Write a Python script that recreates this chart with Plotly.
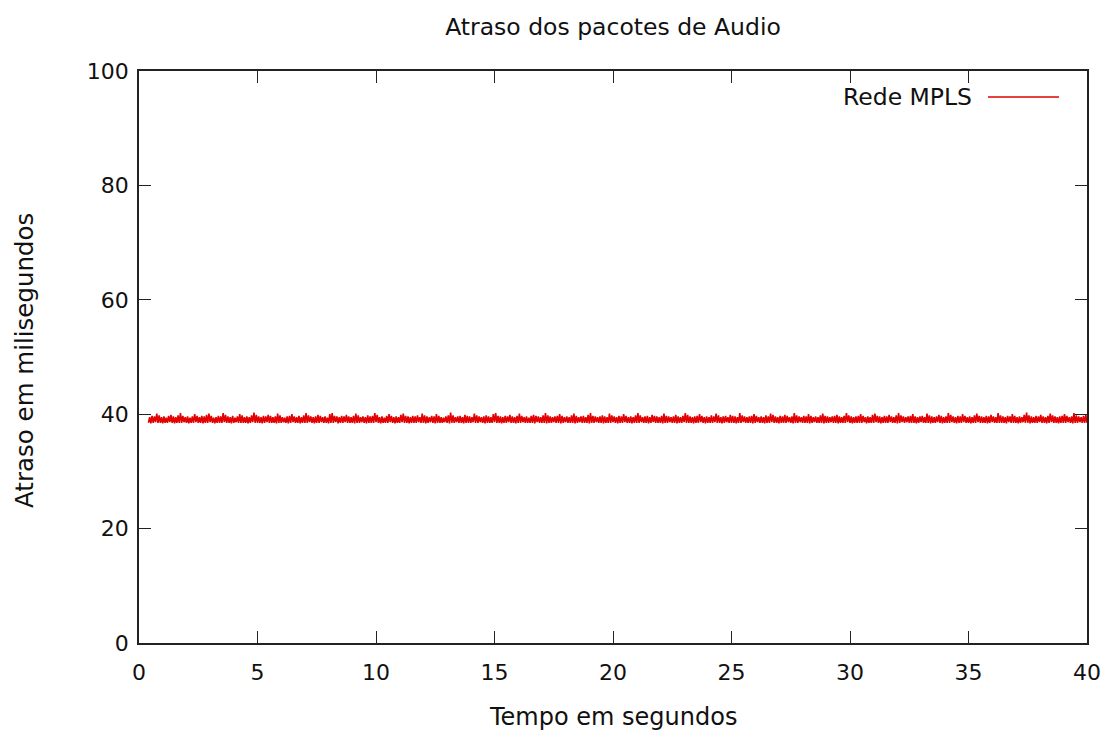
import numpy as np
import plotly.graph_objects as go

# Audio packet delay (ms) over an MPLS network.
# Packets alternate between the floor delay and the upper (jittered) delay.
titulo = "Atraso dos pacotes de Audio"
eixo_x = "Tempo em segundos"
eixo_y = "Atraso em milisegundos"
serie_nome = "Rede MPLS"

t_inicio = 0.4
passo = 0.05

atraso_pico = [
    39.5, 39.7, 39.6, 40.1, 39.8, 39.5, 39.6, 39.4, 39.7, 39.9, 39.6, 39.5, 39.8, 40.2, 39.7, 39.5, 39.6, 39.4,
    39.6, 40.0, 39.7, 39.5, 39.7, 39.6, 39.9, 40.1, 39.7, 39.4, 39.5, 39.7, 39.6, 40.2, 39.9, 39.6, 39.5, 39.7,
    39.4, 39.6, 40.0, 39.8, 39.5, 39.6, 39.5, 39.8, 40.3, 39.9, 39.6, 39.5, 39.7, 39.6, 39.9, 39.7, 39.5, 39.6,
    40.1, 39.8, 39.5, 39.4, 39.6, 39.7, 40.0, 39.6, 39.5, 39.7, 39.5, 39.8, 40.2, 39.8, 39.6, 39.5, 39.6, 39.9,
    39.7, 39.5, 39.6, 39.4, 40.0, 40.2, 39.7, 39.6, 39.5, 39.7, 39.6, 39.9, 39.6, 39.5, 39.7, 40.1, 39.8, 39.5,
    39.6, 39.5, 39.8, 39.6, 39.7, 40.2, 39.9, 39.5, 39.6, 39.4, 39.7, 40.0, 39.7, 39.5, 39.6, 39.5, 39.9, 40.1,
    39.7, 39.6, 39.5, 39.7, 39.6, 39.8, 39.5, 40.1, 39.8, 39.6, 39.5, 39.7, 39.6, 40.0, 39.7, 39.5, 39.4, 39.6,
    39.8, 40.3, 39.8, 39.5, 39.6, 39.7, 39.5, 39.9, 39.7, 39.6, 39.5, 40.1, 39.8, 39.6, 39.5, 39.6, 39.8, 39.6,
    39.5, 40.0, 40.2, 39.7, 39.6, 39.5, 39.7, 39.6, 39.9, 39.6, 39.5, 39.7, 40.1, 39.7, 39.5, 39.6, 39.4, 39.7,
    39.9, 39.7, 39.6, 39.5, 39.8, 40.2, 39.8, 39.6, 39.5, 39.6, 39.7, 40.0, 39.7, 39.5, 39.6, 39.5, 39.8, 40.1,
    39.7, 39.5, 39.6, 39.7, 39.5, 39.9, 40.2, 39.7, 39.6, 39.5, 39.6, 39.8, 39.6, 39.5, 40.1, 39.8, 39.6, 39.5,
    39.7, 39.6, 40.0, 39.7, 39.5, 39.6, 39.5, 39.8, 40.2, 39.8, 39.5, 39.6, 39.7, 39.5, 39.9, 39.7, 39.6, 39.5,
    39.7, 40.1, 39.7, 39.6, 39.5, 39.6, 39.9, 39.6, 39.5, 39.7, 40.2, 39.9, 39.6, 39.5, 39.6, 39.7, 40.0, 39.7,
    39.5, 39.6, 39.5, 39.8, 39.6, 40.1, 39.8, 39.5, 39.6, 39.7, 39.5, 39.9, 39.7, 39.6, 39.5, 40.2, 39.8, 39.6,
    39.5, 39.6, 39.7, 40.0, 39.7, 39.5, 39.6, 39.5, 39.8, 39.6, 40.1, 39.9, 39.6, 39.5, 39.7, 39.6, 39.9, 39.7,
    39.5, 39.6, 40.2, 39.8, 39.6, 39.5, 39.7, 39.6, 40.0, 39.7, 39.5, 39.6, 39.5, 39.8, 40.1, 39.7, 39.6, 39.5,
    39.6, 39.7, 39.9, 39.6, 39.5, 39.7, 40.2, 39.8, 39.6, 39.5, 39.6, 39.7, 40.0, 39.7, 39.5, 39.6, 39.5, 39.9,
    40.1, 39.7, 39.6, 39.5, 39.7, 39.6, 39.9, 39.6, 39.5, 39.8, 40.2, 39.8, 39.6, 39.5, 39.6, 39.7, 40.0, 39.6,
    39.5, 39.6, 39.7, 39.5, 40.1, 39.8, 39.6, 39.5, 39.6, 39.9, 39.7, 39.5, 39.6, 40.2, 39.9, 39.6, 39.5, 39.7,
    39.6, 40.0, 39.7, 39.5, 39.6, 39.5, 39.8, 40.1, 39.7, 39.6, 39.5, 39.7, 39.6, 39.9, 39.6, 39.5, 40.2, 39.8,
    39.6, 39.5, 39.7, 39.6, 40.0, 39.7, 39.5, 39.6, 39.5, 39.9, 40.3, 39.8, 39.6, 39.5, 39.7, 39.6, 39.9, 39.6,
    39.5, 39.7, 40.1, 39.8, 39.6, 39.5, 39.6, 39.7, 40.0, 39.7, 39.5, 39.6, 40.2, 39.8, 39.6, 39.5, 39.7, 39.9,
]

atraso_base = [
    38.5, 38.4, 38.5, 38.6, 38.5, 38.5, 38.4, 38.5, 38.5, 38.6, 38.5, 38.4, 38.5, 38.5, 38.5, 38.6, 38.5, 38.4, 38.5, 38.5,
    38.6, 38.5, 38.5, 38.4, 38.5, 38.5, 38.6, 38.5, 38.4, 38.5, 38.5, 38.5, 38.6, 38.5, 38.5, 38.4, 38.5, 38.6, 38.5, 38.5,
    38.5, 38.5, 38.4, 38.5, 38.6, 38.5, 38.5, 38.5, 38.4, 38.5, 38.6, 38.5, 38.5, 38.5, 38.4, 38.5, 38.5, 38.6, 38.5, 38.4,
    38.5, 38.6, 38.5, 38.5, 38.4, 38.5, 38.5, 38.5, 38.6, 38.5, 38.4, 38.5, 38.5, 38.6, 38.5, 38.5, 38.4, 38.5, 38.5, 38.6,
    38.4, 38.5, 38.5, 38.6, 38.5, 38.5, 38.5, 38.4, 38.5, 38.5, 38.6, 38.5, 38.4, 38.5, 38.5, 38.5, 38.6, 38.5, 38.4, 38.5,
    38.5, 38.5, 38.6, 38.5, 38.4, 38.5, 38.5, 38.6, 38.5, 38.5, 38.4, 38.5, 38.5, 38.5, 38.6, 38.5, 38.5, 38.4, 38.5, 38.6,
    38.5, 38.4, 38.5, 38.5, 38.5, 38.6, 38.5, 38.4, 38.5, 38.5, 38.6, 38.5, 38.5, 38.4, 38.5, 38.5, 38.5, 38.6, 38.5, 38.5,
    38.6, 38.5, 38.4, 38.5, 38.5, 38.5, 38.6, 38.5, 38.5, 38.4, 38.5, 38.5, 38.6, 38.5, 38.5, 38.4, 38.5, 38.5, 38.6, 38.5,
    38.5, 38.5, 38.5, 38.4, 38.6, 38.5, 38.5, 38.5, 38.4, 38.5, 38.5, 38.6, 38.5, 38.5, 38.4, 38.5, 38.6, 38.5, 38.5, 38.5,
    38.4, 38.5, 38.6, 38.5, 38.5, 38.5, 38.4, 38.5, 38.5, 38.6, 38.5, 38.5, 38.4, 38.5, 38.5, 38.5, 38.6, 38.5, 38.4, 38.5,
    38.5, 38.6, 38.5, 38.5, 38.4, 38.5, 38.5, 38.5, 38.6, 38.5, 38.5, 38.4, 38.5, 38.6, 38.5, 38.5, 38.5, 38.4, 38.5, 38.5,
    38.6, 38.5, 38.5, 38.4, 38.5, 38.5, 38.6, 38.5, 38.5, 38.5, 38.4, 38.5, 38.5, 38.6, 38.5, 38.4, 38.5, 38.5, 38.5, 38.6,
    38.5, 38.5, 38.4, 38.5, 38.6, 38.5, 38.5, 38.5, 38.4, 38.5, 38.5, 38.6, 38.5, 38.5, 38.5, 38.4, 38.5, 38.6, 38.5, 38.5,
    38.4, 38.5, 38.5, 38.6, 38.5, 38.5, 38.4, 38.5, 38.5, 38.5, 38.6, 38.5, 38.4, 38.5, 38.5, 38.6, 38.5, 38.5, 38.5, 38.4,
    38.5, 38.6, 38.5, 38.5, 38.5, 38.4, 38.5, 38.5, 38.6, 38.5, 38.5, 38.4, 38.5, 38.5, 38.5, 38.6, 38.5, 38.4, 38.5, 38.5,
    38.5, 38.5, 38.6, 38.4, 38.5, 38.5, 38.5, 38.6, 38.5, 38.4, 38.5, 38.5, 38.5, 38.6, 38.5, 38.5, 38.4, 38.5, 38.6, 38.5,
    38.6, 38.5, 38.5, 38.5, 38.4, 38.5, 38.6, 38.5, 38.5, 38.5, 38.4, 38.5, 38.5, 38.6, 38.5, 38.4, 38.5, 38.5, 38.5, 38.6,
    38.5, 38.4, 38.5, 38.5, 38.6, 38.5, 38.5, 38.4, 38.5, 38.5, 38.6, 38.5, 38.5, 38.5, 38.4, 38.5, 38.6, 38.5, 38.5, 38.5,
    38.5, 38.5, 38.4, 38.6, 38.5, 38.5, 38.5, 38.4, 38.5, 38.6, 38.5, 38.5, 38.4, 38.5, 38.5, 38.5, 38.6, 38.5, 38.5, 38.4,
    38.5, 38.6, 38.5, 38.5, 38.4, 38.5, 38.5, 38.5, 38.6, 38.5, 38.4, 38.5, 38.5, 38.6, 38.5, 38.5, 38.5,
]

ticks_x = [0, 5, 10, 15, 20, 25, 30, 35, 40]
ticks_y = [0, 20, 40, 60, 80, 100]

# Interleave floor and peak samples into one delay series
atraso = []
for i, base in enumerate(atraso_base):
    atraso.append(base)
    if i < len(atraso_pico):
        atraso.append(atraso_pico[i])
tempo = np.round(t_inicio + passo * np.arange(len(atraso)), 3)

FONTE = "DejaVu Sans"
VERMELHO = "rgb(226,0,0)"

# Page size and plot area in pixels (left, right, top, bottom)
LARG, ALT = 1107, 730
L, R, T, B = 139, 1087, 71, 643
W, H = R - L, B - T

fig = go.Figure()
fig.add_trace(go.Scatter(
    x=tempo, y=atraso, mode="lines", name=serie_nome,
    line=dict(color=VERMELHO, width=1.6, simplify=False), showlegend=False,
))

eixo_comum = dict(
    showline=True, linecolor="#222", linewidth=1.6, mirror="allticks",
    ticks="inside", ticklen=12, tickwidth=1.4, tickcolor="#222",
    showgrid=False, zeroline=False, automargin=False,
    tickfont=dict(family=FONTE, size=22, color="#111"),
)

fig.update_layout(
    width=LARG, height=ALT,
    margin=dict(l=L, r=LARG - R, t=T, b=ALT - B, pad=0, autoexpand=False),
    paper_bgcolor="white", plot_bgcolor="white",
    font=dict(family=FONTE, color="#111"),
    title=dict(text=titulo, x=0.5, xref="paper", y=1 - 27 / ALT, yref="container",
               xanchor="center", yanchor="middle", font=dict(family=FONTE, size=23.5, color="#111")),
    xaxis=dict(range=[0, 40], tickvals=ticks_x, ticklabelstandoff=9, **eixo_comum),
    yaxis=dict(range=[0, 100], tickvals=ticks_y, ticklabelstandoff=4, **eixo_comum),
    annotations=[
        dict(text=eixo_x, xref="paper", yref="paper", x=0.5, y=(B - 717) / H,
             xanchor="center", yanchor="middle", showarrow=False,
             font=dict(family=FONTE, size=24, color="#111")),
        dict(text=eixo_y, xref="paper", yref="paper", x=(24 - L) / W, y=(B - 361) / H,
             xanchor="center", yanchor="middle", textangle=-90, showarrow=False,
             font=dict(family=FONTE, size=24.5, color="#111")),
        dict(text=serie_nome, xref="paper", yref="paper", x=(974 - L) / W, y=(B - 97) / H,
             xanchor="right", yanchor="middle", showarrow=False,
             font=dict(family=FONTE, size=23.5, color="#111")),
    ],
    shapes=[
        dict(type="line", xref="paper", yref="paper",
             x0=(988 - L) / W, x1=(1059 - L) / W,
             y0=(B - 97) / H, y1=(B - 97) / H,
             line=dict(color=VERMELHO, width=1.5)),
    ],
)

fig.write_html("out.html")
